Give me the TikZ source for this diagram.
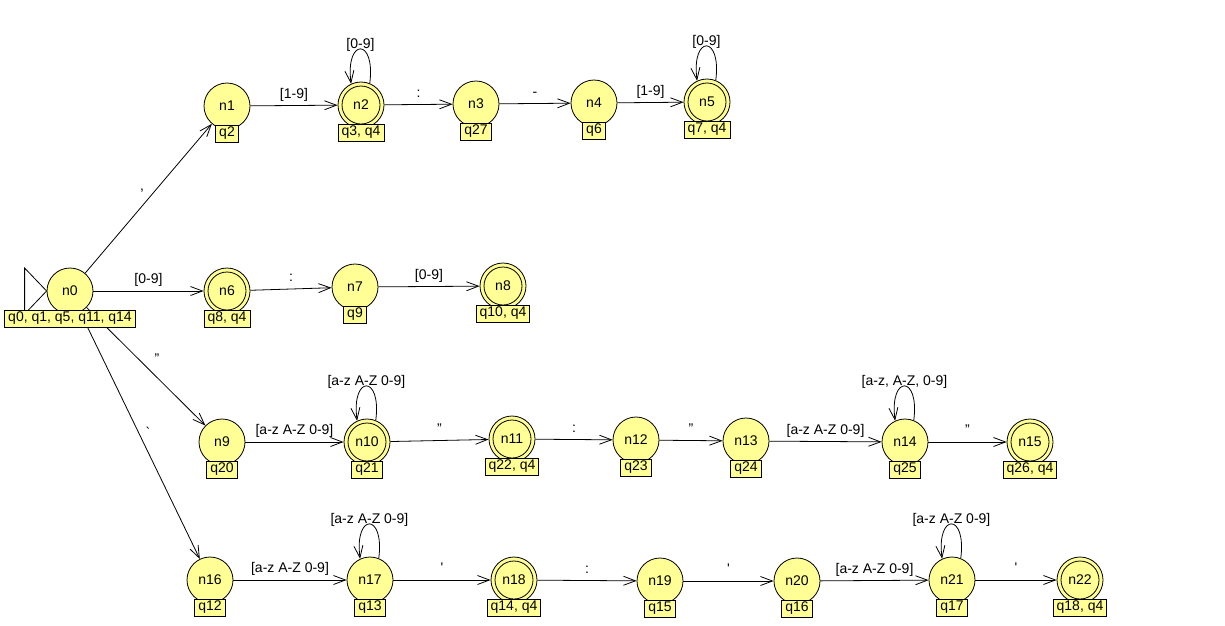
\documentclass[tikz,border=0pt]{standalone}
\usepackage{fontspec}
\setmainfont{Liberation Sans}
\usetikzlibrary{arrows.meta,backgrounds}
\definecolor{stfill}{RGB}{255,255,150}
\newcommand\myfs{\fontsize{14pt}{16pt}\selectfont}
\tikzset{
  st/.style={circle, draw, fill=stfill, minimum size=46pt, inner sep=0pt, line width=0.8pt, font=\myfs},
  fin/.style={st, path picture={\draw[line width=0.8pt] (path picture bounding box.center) circle (19pt);}},
  lbl/.style={draw, fill=stfill, line width=0.8pt, font=\myfs, inner xsep=3.5pt, inner ysep=2pt, text height=10pt, text depth=3pt, anchor=north},
  ed/.style={-{Straight Barb[length=12pt,width=9pt]}, line width=0.8pt},
  elab/.style={font=\myfs, inner sep=0pt, text height=10pt, text depth=3pt, anchor=south, yshift=4pt},
  slab/.style={font=\myfs, inner sep=0pt, anchor=base},
  llab/.style={font=\myfs, inner sep=0pt, text height=10pt, text depth=3pt, anchor=south, yshift=-3pt}
}
\begin{document}
\begin{tikzpicture}[x=1pt,y=-1pt]
\useasboundingbox (0,0) rectangle (1225,625);
% states
\node[st]  (n0)  at (70,291)  {n0};
\node[st]  (n1)  at (227,106) {n1};
\node[fin] (n2)  at (361,105) {n2};
\node[st]  (n3)  at (476,104) {n3};
\node[st]  (n4)  at (594,103) {n4};
\node[fin] (n5)  at (707,102) {n5};
\node[fin] (n6)  at (227,291) {n6};
\node[st]  (n7)  at (355,287) {n7};
\node[fin] (n8)  at (503,286) {n8};
\node[st]  (n9)  at (222,442) {n9};
\node[fin] (n10) at (367,442) {n10};
\node[fin] (n11) at (512,439) {n11};
\node[st]  (n12) at (636,440) {n12};
\node[st]  (n13) at (746,441) {n13};
\node[st]  (n14) at (905,442) {n14};
\node[fin] (n15) at (1030,442) {n15};
\node[st]  (n16) at (210,580) {n16};
\node[st]  (n17) at (370,580) {n17};
\node[fin] (n18) at (514,580) {n18};
\node[st]  (n19) at (660,581) {n19};
\node[st]  (n20) at (797,581) {n20};
\node[st]  (n21) at (952,580) {n21};
\node[fin] (n22) at (1080,580) {n22};
% state labels
\node[lbl] (b0)  at ([yshift=-18.5pt]n0.center)  {q0, q1, q5, q11, q14};
\node[lbl] (b1)  at ([yshift=-18.5pt]n1.center)  {q2};
\node[lbl] (b2)  at ([yshift=-18.5pt]n2.center)  {q3, q4};
\node[lbl] (b3)  at ([yshift=-18.5pt]n3.center)  {q27};
\node[lbl] (b4)  at ([yshift=-18.5pt]n4.center)  {q6};
\node[lbl] (b5)  at ([yshift=-18.5pt]n5.center)  {q7, q4};
\node[lbl] (b6)  at ([yshift=-18.5pt]n6.center)  {q8, q4};
\node[lbl] (b7)  at ([yshift=-18.5pt]n7.center)  {q9};
\node[lbl] (b8)  at ([yshift=-18.5pt]n8.center)  {q10, q4};
\node[lbl] (b9)  at ([yshift=-18.5pt]n9.center)  {q20};
\node[lbl] (b10) at ([yshift=-18.5pt]n10.center) {q21};
\node[lbl] (b11) at ([yshift=-18.5pt]n11.center) {q22, q4};
\node[lbl] (b12) at ([yshift=-18.5pt]n12.center) {q23};
\node[lbl] (b13) at ([yshift=-18.5pt]n13.center) {q24};
\node[lbl] (b14) at ([yshift=-18.5pt]n14.center) {q25};
\node[lbl] (b15) at ([yshift=-18.5pt]n15.center) {q26, q4};
\node[lbl] (b16) at ([yshift=-18.5pt]n16.center) {q12};
\node[lbl] (b17) at ([yshift=-18.5pt]n17.center) {q13};
\node[lbl] (b18) at ([yshift=-18.5pt]n18.center) {q14, q4};
\node[lbl] (b19) at ([yshift=-18.5pt]n19.center) {q15};
\node[lbl] (b20) at ([yshift=-18.5pt]n20.center) {q16};
\node[lbl] (b21) at ([yshift=-18.5pt]n21.center) {q17};
\node[lbl] (b22) at ([yshift=-18.5pt]n22.center) {q18, q4};
\begin{scope}[on background layer]
% initial marker
\draw[line width=0.8pt] (n0.west) -- ++(-22,-23) -- ++(0,46) -- cycle;
% edges from n0
\draw[ed] (n0) -- (n1) node[slab, midway, xshift=-6.5pt, yshift=8.5pt] {,};
\draw[ed] (n0) -- (n6) node[elab, midway] {[0-9]};
\draw[ed] (n0) -- (n9) node[slab, midway, xshift=11pt, yshift=3pt] {"};
\draw[ed] (n0) -- (n16) node[slab, midway, xshift=8pt, yshift=-1.5pt] {\textasciigrave};
% row 1
\draw[ed] (n1) -- (n2) node[elab, midway] {[1-9]};
\draw[ed] (n2) -- (n3) node[elab, midway] {:};
\draw[ed] (n3) -- (n4) node[elab, midway] {-};
\draw[ed] (n4) -- (n5) node[elab, midway] {[1-9]};
% row 2
\draw[ed] (n6) -- (n7) node[elab, midway] {:};
\draw[ed] (n7) -- (n8) node[elab, midway] {[0-9]};
% row 3
\draw[ed] (n9) -- (n10) node[elab, midway] {[a-z A-Z 0-9]};
\draw[ed] (n10) -- (n11) node[elab, midway] {"};
\draw[ed] (n11) -- (n12) node[elab, midway] {:};
\draw[ed] (n12) -- (n13) node[elab, midway] {"};
\draw[ed] (n13) -- (n14) node[elab, midway] {[a-z A-Z 0-9]};
\draw[ed] (n14) -- (n15) node[elab, midway] {"};
% row 4
\draw[ed] (n16) -- (n17) node[elab, midway] {[a-z A-Z 0-9]};
\draw[ed] (n17) -- (n18) node[elab, midway] {\textquotesingle};
\draw[ed] (n18) -- (n19) node[elab, midway] {:};
\draw[ed] (n19) -- (n20) node[elab, midway] {\textquotesingle};
\draw[ed] (n20) -- (n21) node[elab, midway] {[a-z A-Z 0-9]};
\draw[ed] (n21) -- (n22) node[elab, midway] {\textquotesingle};
% loops
\draw[ed] (n2.68) .. controls +(6,-46) and +(-6,-46) .. (n2.115) node[llab, pos=0.5] {[0-9]};
\draw[ed] (n5.68) .. controls +(6,-46) and +(-6,-46) .. (n5.115) node[llab, pos=0.5] {[0-9]};
\draw[ed] (n10.68) .. controls +(6,-46) and +(-6,-46) .. (n10.115) node[llab, pos=0.5] {[a-z A-Z 0-9]};
\draw[ed] (n14.68) .. controls +(6,-46) and +(-6,-46) .. (n14.115) node[llab, pos=0.5] {[a-z, A-Z, 0-9]};
\draw[ed] (n17.68) .. controls +(6,-46) and +(-6,-46) .. (n17.115) node[llab, pos=0.5] {[a-z A-Z 0-9]};
\draw[ed] (n21.68) .. controls +(6,-46) and +(-6,-46) .. (n21.115) node[llab, pos=0.5] {[a-z A-Z 0-9]};
\end{scope}
\end{tikzpicture}
\end{document}
